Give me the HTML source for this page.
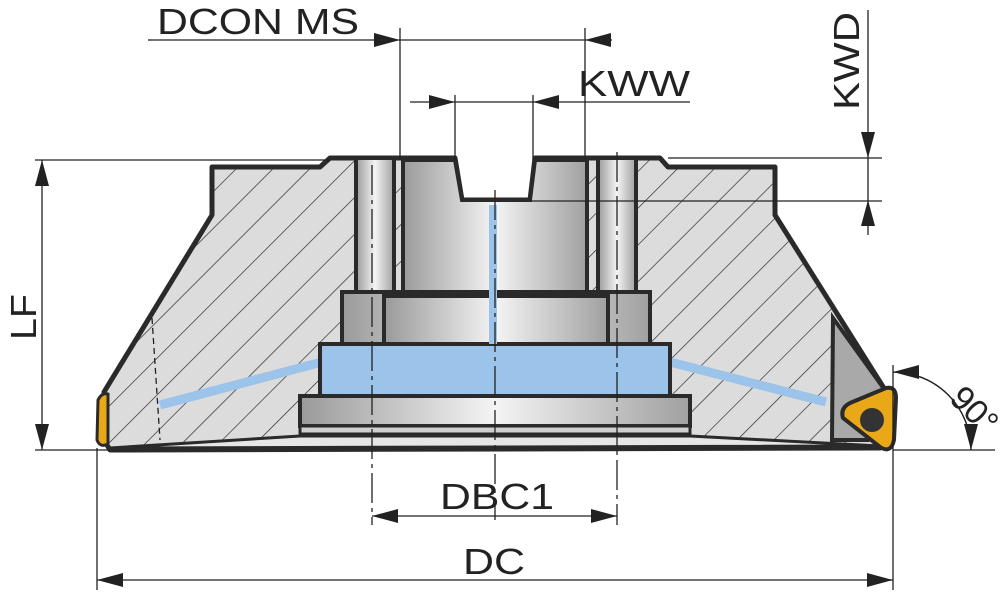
<!DOCTYPE html>
<html><head><meta charset="utf-8"><style>
html,body{margin:0;padding:0;background:#fff;}
svg{display:block;}
text{font-family:"Liberation Sans",sans-serif;fill:#222;}
</style></head><body>
<svg width="1000" height="595" viewBox="0 0 1000 595" xmlns="http://www.w3.org/2000/svg">
<defs>
<pattern id="h" patternUnits="userSpaceOnUse" width="26" height="26" patternTransform="rotate(45)">
<rect width="26" height="26" fill="#dcdcdc"/>
<line x1="0" y1="0" x2="0" y2="26" stroke="#222" stroke-width="1.3"/>
</pattern>
<linearGradient id="cyl" x1="0" x2="1" y1="0" y2="0">
<stop offset="0" stop-color="#9a9a9a"/><stop offset="0.5" stop-color="#f4f4f4"/><stop offset="1" stop-color="#a0a0a0"/>
</linearGradient>
<marker id="a" markerWidth="26" markerHeight="14" refX="26" refY="7" orient="auto" markerUnits="userSpaceOnUse" viewBox="0 0 26 14"><path d="M0,0 L26,7 L0,14z" fill="#222"/></marker>
</defs>

<!-- body -->
<path d="M212,167 L320,167 L330,158 L455,158 L462,200 L530,200 L535,158 L660,158 L668,167 L775,167 L775,215 L887,393 L880,448 L110,450 L104,440 L104,392 L212,215 Z" fill="url(#h)" stroke="#2a2a2a" stroke-width="5" stroke-linejoin="round"/>
<path d="M833,318 L887,393 L868,440 L832,440 Z" fill="#a9a9a9" stroke="#2a2a2a" stroke-width="4"/>
<path d="M110,448 L300,436 L690,436 L880,446 Z" fill="#e6e6e6" stroke="#2a2a2a" stroke-width="3"/>
<line x1="160" y1="405" x2="322" y2="362" stroke="#9cc3ea" stroke-width="9"/>
<line x1="670" y1="362" x2="826" y2="402" stroke="#9cc3ea" stroke-width="9"/>
<path d="M152,318 L160,440" stroke="#222" stroke-width="1.3" stroke-dasharray="6,4" fill="none"/>

<rect x="356" y="158" width="38" height="136" fill="url(#cyl)" stroke="#2a2a2a" stroke-width="4"/>
<rect x="598" y="158" width="38" height="136" fill="url(#cyl)" stroke="#2a2a2a" stroke-width="4"/>
<path d="M403,160 L455,160 L462,200 L530,200 L535,160 L587,160 L587,296 L403,296 Z" fill="url(#cyl)" stroke="#2a2a2a" stroke-width="4"/>
<rect x="342" y="292" width="308" height="52" fill="url(#cyl)" stroke="#2a2a2a" stroke-width="4"/>
<rect x="384" y="296" width="224" height="48" fill="url(#cyl)" stroke="#2a2a2a" stroke-width="4"/>
<rect x="320" y="344" width="350" height="52" fill="#9cc3ea" stroke="#2a2a2a" stroke-width="4"/>
<rect x="300" y="396" width="390" height="30" fill="url(#cyl)" stroke="#2a2a2a" stroke-width="4"/>
<rect x="300" y="426" width="390" height="8" fill="#cfcfcf" stroke="#2a2a2a" stroke-width="3"/>
<rect x="489" y="205" width="8" height="139" fill="#9cc3ea"/>

<g stroke="#222" stroke-width="1.3" fill="none">
<path d="M495,190 V520" stroke-dasharray="30,5,4,5"/>
<path d="M372,165 V525" stroke-dasharray="30,5,4,5"/>
<path d="M617,152 V525" stroke-dasharray="30,5,4,5"/>
</g>

<path d="M98,400 Q102,392 108,394 L108,444 Q100,448 97,440 Z" fill="#e8a817" stroke="#2a2a2a" stroke-width="3"/>
<path d="M843,418 Q840,408 850,403 L886,388 Q896,386 896,398 L894,440 Q891,454 880,447 Z" fill="#e8a817" stroke="#2a2a2a" stroke-width="4"/>
<circle cx="872" cy="420" r="12" fill="#333"/>

<g stroke="#222" stroke-width="1.3" fill="none">
<line x1="148" y1="40" x2="400" y2="40" marker-end="url(#a)"/>
<line x1="400" y1="40" x2="585" y2="40"/>
<line x1="612" y1="40" x2="585" y2="40" marker-end="url(#a)"/>
<line x1="400" y1="28" x2="400" y2="160"/>
<line x1="585" y1="28" x2="585" y2="160"/>
<line x1="410" y1="102" x2="455" y2="102" marker-end="url(#a)"/>
<line x1="455" y1="102" x2="533" y2="102"/>
<line x1="690" y1="102" x2="533" y2="102" marker-end="url(#a)"/>
<line x1="455" y1="95" x2="455" y2="160"/>
<line x1="533" y1="95" x2="533" y2="160"/>
<line x1="868" y1="10" x2="868" y2="158" marker-end="url(#a)"/>
<line x1="868" y1="235" x2="868" y2="200" marker-end="url(#a)"/>
<line x1="868" y1="158" x2="868" y2="200"/>
<line x1="668" y1="158" x2="882" y2="158"/>
<line x1="530" y1="201" x2="882" y2="201"/>
<line x1="42" y1="300" x2="42" y2="160" marker-end="url(#a)"/>
<line x1="42" y1="300" x2="42" y2="450" marker-end="url(#a)"/>
<line x1="35" y1="160" x2="330" y2="160"/>
<line x1="35" y1="450" x2="110" y2="450"/>
<line x1="495" y1="516" x2="372" y2="516" marker-end="url(#a)"/>
<line x1="495" y1="516" x2="617" y2="516" marker-end="url(#a)"/>
<line x1="495" y1="580" x2="97" y2="580" marker-end="url(#a)"/>
<line x1="495" y1="580" x2="893" y2="580" marker-end="url(#a)"/>
<line x1="97" y1="448" x2="97" y2="590"/>
<line x1="893" y1="365" x2="893" y2="590"/>
<line x1="893" y1="450" x2="995" y2="450"/>
<path d="M893,372 A78,78 0 0 1 971,450" marker-end="url(#a)"/>
<path d="M971,450 A78,78 0 0 0 893,372" marker-end="url(#a)"/>
</g>

<text x="157" y="34" font-size="36" textLength="202" lengthAdjust="spacingAndGlyphs">DCON MS</text>
<text x="578" y="96" font-size="36" textLength="112" lengthAdjust="spacingAndGlyphs">KWW</text>
<text transform="translate(859,110) rotate(-90)" font-size="36" textLength="98" lengthAdjust="spacingAndGlyphs">KWD</text>
<text transform="translate(36,340) rotate(-90)" font-size="36" textLength="46" lengthAdjust="spacingAndGlyphs">LF</text>
<text x="440" y="509" font-size="36" textLength="114" lengthAdjust="spacingAndGlyphs">DBC1</text>
<text x="463" y="574" font-size="36" textLength="62" lengthAdjust="spacingAndGlyphs">DC</text>
<text transform="translate(948,400) rotate(45)" font-size="34">90°</text>
</svg>
</body></html>
